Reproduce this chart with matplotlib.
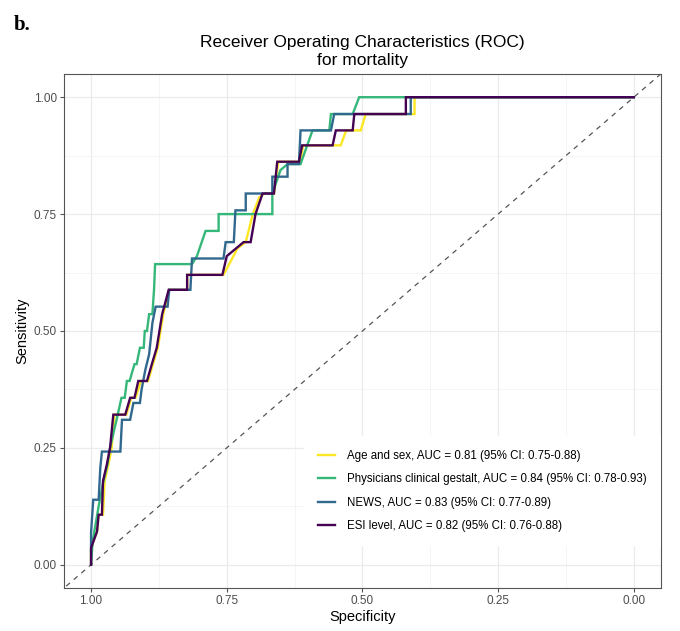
import matplotlib
matplotlib.use("Agg")
import matplotlib.pyplot as plt
from matplotlib.ticker import MultipleLocator

plt.rcParams['font.family'] = ['Liberation Sans', 'DejaVu Sans']

# ROC points (specificity, sensitivity)
age_spec = [1.000, 1.000, 0.989, 0.986, 0.978, 0.975, 0.968, 0.962, 0.957, 0.935,
            0.926, 0.918, 0.908, 0.895, 0.886, 0.877, 0.867, 0.856, 0.823, 0.823,
            0.756, 0.730, 0.715, 0.702, 0.690, 0.680, 0.663, 0.655, 0.615, 0.609,
            0.540, 0.530, 0.503, 0.494, 0.404, 0.404, 0.000]
age_sens = [0.000, 0.036, 0.071, 0.107, 0.107, 0.179, 0.214, 0.250, 0.321, 0.321,
            0.357, 0.357, 0.393, 0.393, 0.429, 0.464, 0.536, 0.588, 0.588, 0.620,
            0.620, 0.677, 0.690, 0.750, 0.786, 0.794, 0.794, 0.862, 0.862, 0.897,
            0.897, 0.929, 0.929, 0.964, 0.964, 1.000, 1.000]

gestalt_spec = [1.000, 0.997, 0.994, 0.986, 0.977, 0.970, 0.965, 0.959, 0.953, 0.944,
                0.938, 0.934, 0.929, 0.920, 0.916, 0.910, 0.903, 0.901, 0.897, 0.893,
                0.887, 0.884, 0.882, 0.814, 0.805, 0.789, 0.765, 0.765, 0.666, 0.666,
                0.651, 0.638, 0.614, 0.592, 0.561, 0.558, 0.518, 0.506, 0.000]
gestalt_sens = [0.000, 0.050, 0.071, 0.125, 0.180, 0.214, 0.250, 0.280, 0.310, 0.357,
                0.357, 0.393, 0.393, 0.429, 0.429, 0.464, 0.464, 0.500, 0.500, 0.536,
                0.536, 0.588, 0.643, 0.643, 0.660, 0.714, 0.714, 0.750, 0.750, 0.794,
                0.844, 0.857, 0.857, 0.929, 0.929, 0.964, 0.964, 1.000, 1.000]

news_spec = [1.000, 1.000, 0.996, 0.986, 0.983, 0.980, 0.946, 0.943, 0.928, 0.922,
             0.910, 0.907, 0.900, 0.893, 0.887, 0.881, 0.859, 0.856, 0.817, 0.814,
             0.756, 0.752, 0.737, 0.734, 0.715, 0.715, 0.666, 0.666, 0.638, 0.638,
             0.617, 0.614, 0.558, 0.552, 0.411, 0.411, 0.000]
news_sens = [0.000, 0.068, 0.139, 0.139, 0.207, 0.242, 0.242, 0.310, 0.310, 0.346,
             0.346, 0.374, 0.417, 0.450, 0.517, 0.552, 0.552, 0.588, 0.588, 0.655,
             0.655, 0.690, 0.690, 0.758, 0.758, 0.794, 0.794, 0.830, 0.830, 0.857,
             0.857, 0.929, 0.929, 0.964, 0.964, 1.000, 1.000]

esi_spec = [1.000, 1.000, 0.989, 0.986, 0.980, 0.978, 0.971, 0.965, 0.959, 0.937,
            0.928, 0.920, 0.913, 0.897, 0.888, 0.879, 0.869, 0.857, 0.823, 0.823,
            0.758, 0.750, 0.719, 0.706, 0.697, 0.684, 0.663, 0.657, 0.617, 0.611,
            0.555, 0.549, 0.518, 0.515, 0.420, 0.420, 0.000]
esi_sens = [0.000, 0.036, 0.071, 0.107, 0.107, 0.179, 0.214, 0.250, 0.321, 0.321,
            0.357, 0.357, 0.393, 0.393, 0.429, 0.464, 0.536, 0.588, 0.588, 0.620,
            0.620, 0.660, 0.690, 0.690, 0.750, 0.794, 0.794, 0.862, 0.862, 0.897,
            0.897, 0.929, 0.929, 0.964, 0.964, 1.000, 1.000]

labels = ["Age and sex, AUC = 0.81 (95% CI: 0.75-0.88)",
          "Physicians clinical gestalt, AUC = 0.84 (95% CI: 0.78-0.93)",
          "NEWS, AUC = 0.83 (95% CI: 0.77-0.89)",
          "ESI level, AUC = 0.82 (95% CI: 0.76-0.88)"]
colors = ['#FDE725', '#35B779', '#31688E', '#440154']
ticks = [1.00, 0.75, 0.50, 0.25, 0.00]

fig = plt.figure(figsize=(6.8, 6.31), dpi=100)
ax = fig.add_axes([0.094, 0.068, 0.878, 0.815])

# grid like theme_bw
ax.xaxis.set_major_locator(MultipleLocator(0.25))
ax.xaxis.set_minor_locator(MultipleLocator(0.125))
ax.yaxis.set_major_locator(MultipleLocator(0.25))
ax.yaxis.set_minor_locator(MultipleLocator(0.125))
ax.grid(which='major', color='#EBEBEB', lw=0.9)
ax.grid(which='minor', color='#F2F2F2', lw=0.5)
ax.set_axisbelow(True)

ax.axline((1, 0), (0, 1), color='#555555', lw=0.9, ls=(0, (4, 4)), zorder=2)

curves = [(age_spec, age_sens), (gestalt_spec, gestalt_sens),
          (news_spec, news_sens), (esi_spec, esi_sens)]
for (sp, se), c, lab in zip(curves, colors, labels):
    ax.plot(sp, se, color=c, lw=1.7, label=lab, zorder=3, solid_joinstyle='miter')

ax.set_xlim(1.05, -0.05)
ax.set_ylim(-0.05, 1.05)
ax.set_xticks(ticks)
ax.set_xticklabels([f"{t:.2f}" for t in ticks])
ax.set_yticks(ticks)
ax.set_yticklabels([f"{t:.2f}" for t in ticks])
ax.tick_params(which='major', length=3, width=0.8, color='#555555',
               labelsize=8.5, labelcolor='#4D4D4D', pad=2)
ax.tick_params(which='minor', length=0)
for s in ax.spines.values():
    s.set_color('#555555')
    s.set_linewidth(0.8)

ax.set_xlabel("Specificity", fontsize=10.5, labelpad=2)
ax.set_ylabel("Sensitivity", fontsize=10.5, labelpad=3)
ax.set_title("Receiver Operating Characteristics (ROC)\nfor mortality",
             fontsize=12.5, pad=6, linespacing=1.25)

leg = ax.legend(loc='upper left', bbox_to_anchor=(0.402, 0.296), fontsize=8.3,
                frameon=True, fancybox=False, edgecolor='none', facecolor='white',
                framealpha=1, handlelength=1.5, handletextpad=1.05,
                labelspacing=1.0, borderpad=1.2, borderaxespad=0)

fig.text(0.02, 0.976, "b.", fontsize=15, fontweight='bold',
         family='Liberation Serif', va='top', ha='left')

fig.savefig("out.png", dpi=100)
